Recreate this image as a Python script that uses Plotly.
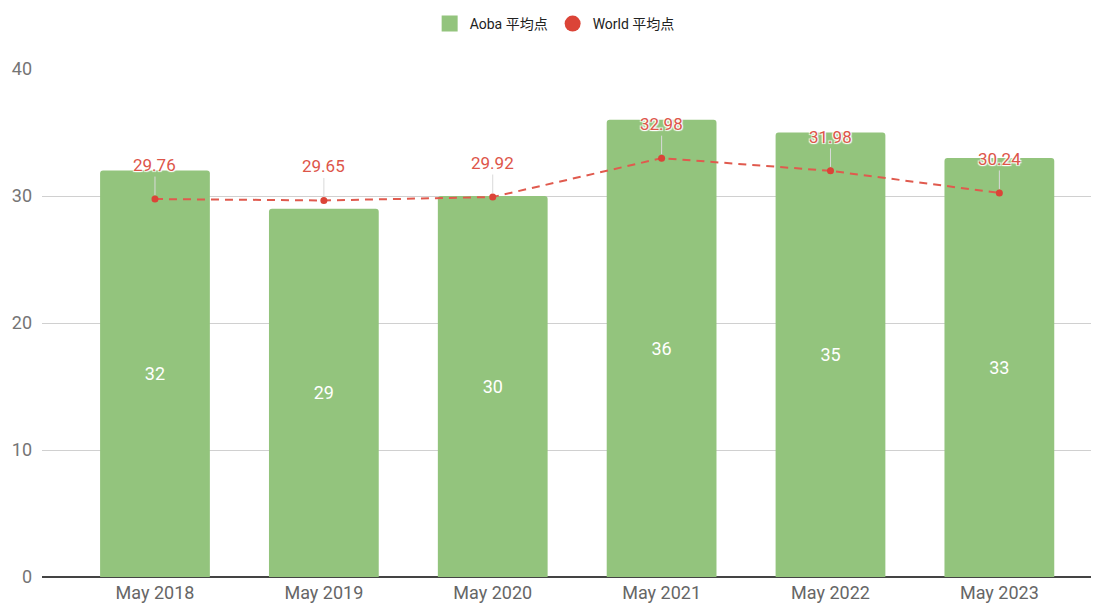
import plotly.graph_objects as go

categories = ["May 2018", "May 2019", "May 2020", "May 2021", "May 2022", "May 2023"]
aoba_values = [32, 29, 30, 36, 35, 33]
world_values = [29.76, 29.65, 29.92, 32.98, 31.98, 30.24]
y_ticks = [0, 10, 20, 30, 40]

GREEN = "#93c47d"
RED = "#db4437"
FONT = "Roboto, 'Noto Sans CJK JP', sans-serif"

fig = go.Figure()

fig.add_trace(go.Bar(
    x=categories, y=aoba_values, name="Aoba 平均点",
    marker=dict(color=GREEN, cornerradius=3, line=dict(width=0)),
    width=0.65,
    text=[str(v) for v in aoba_values],
    textposition="inside", insidetextanchor="middle",
    textfont=dict(color="white", size=18, family=FONT),
    showlegend=False,
))

fig.add_trace(go.Scatter(
    x=categories, y=world_values, name="World 平均点",
    mode="lines+markers",
    line=dict(color="#e05a4e", width=2, dash="8px,6px"),
    marker=dict(color=RED, size=7),
    showlegend=False,
))

# legend-only entries
fig.add_trace(go.Scatter(
    x=[None], y=[None], name="Aoba 平均点", mode="markers",
    marker=dict(color=GREEN, size=17, symbol="square"), showlegend=True,
))
fig.add_trace(go.Scatter(
    x=[None], y=[None], name="World 平均点", mode="markers",
    marker=dict(color=RED, size=18), showlegend=True,
))

for c, v in zip(categories, world_values):
    fig.add_annotation(
        x=c, y=v, text=f"{v:.2f}",
        showarrow=True, arrowhead=0, arrowwidth=1, arrowcolor="#d9d9d9",
        ax=0, ay=-34, standoff=4,
        font=dict(color="#dd5549", size=17, family=FONT,
                  shadow="1px 1px 1px white, -1px -1px 1px white, 1px -1px 1px white, -1px 1px 1px white"),
    )

fig.update_layout(
    width=1091, height=598,
    margin=dict(l=34, r=0, t=61, b=29),
    plot_bgcolor="white", paper_bgcolor="white",
    font=dict(family=FONT, color="#666666"),
    legend=dict(orientation="h", x=0.485, xanchor="center", y=1.0, yanchor="top",
                yref="container", font=dict(size=14, color="#222222", family=FONT)),
    xaxis=dict(type="category", range=[-0.669, 5.59], showgrid=False,
               tickfont=dict(size=18, color="#666666"), ticks="", showline=False,
               ticklabelstandoff=3, automargin=False),
    yaxis=dict(range=[0, 40], tickvals=y_ticks, showgrid=True, gridcolor="#d0d0d0",
               gridwidth=1, zeroline=True, zerolinecolor="#444444", zerolinewidth=1.5,
               tickfont=dict(size=18, color="#757575"), ticks="", showline=False,
               ticklabelstandoff=9, automargin=False),
)

fig.write_html("out.html")
